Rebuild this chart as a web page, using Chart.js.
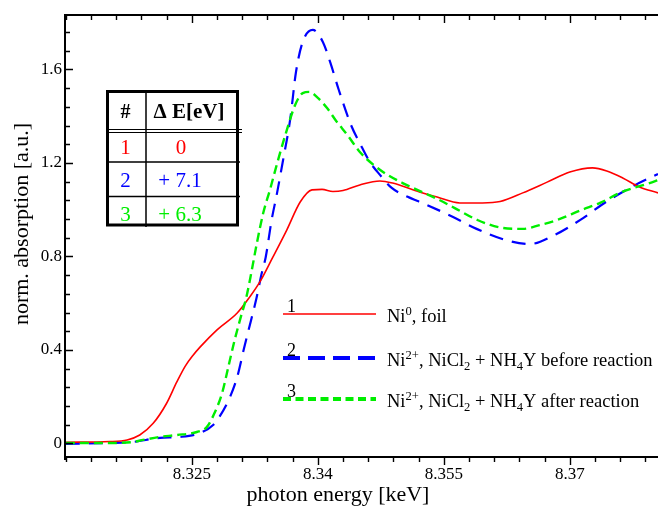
<!DOCTYPE html>
<html><head><meta charset="utf-8">
<script src="https://cdn.jsdelivr.net/npm/chart.js@4.4.1/dist/chart.umd.min.js"></script>
<style>html,body{margin:0;padding:0;background:#fff}#wrap{width:658px;height:509px;position:relative}canvas{display:block}</style>
</head><body><div id="wrap"><canvas id="c" width="658" height="509"></canvas></div>
<script>
// ---- data ----
const energyFoil = [8.3100,8.3152,8.3173,8.3188,8.3204,8.3220,8.3232,8.3242,8.3251,8.3260,8.3280,8.3304,8.3319,8.3331,8.3346,8.3363,8.3379,8.3393,8.3405,8.3418,8.3430,8.3450,8.3474,8.3489,8.3521,8.3542,8.3569,8.3596,8.3617,8.3644,8.3673,8.3700,8.3727,8.3744,8.3763,8.3783,8.3805];
const absFoil    = [0.005,0.008,0.015,0.036,0.086,0.172,0.262,0.330,0.375,0.413,0.486,0.558,0.627,0.691,0.794,0.913,1.033,1.085,1.087,1.078,1.082,1.106,1.123,1.114,1.076,1.054,1.029,1.029,1.035,1.072,1.118,1.161,1.179,1.166,1.136,1.097,1.072];

const energyBefore = [8.3100,8.3152,8.3179,8.3212,8.3236,8.3260,8.3275,8.3283,8.3295,8.3304,8.3312,8.3320,8.3327,8.3333,8.3338,8.3345,8.3351,8.3358,8.3367,8.3374,8.3382,8.3394,8.3406,8.3415,8.3425,8.3440,8.3450,8.3462,8.3474,8.3488,8.3507,8.3527,8.3561,8.3589,8.3623,8.3652,8.3682,8.3714,8.3743,8.3776,8.3805];
const absBefore    = [-0.002,0.002,0.006,0.024,0.028,0.045,0.078,0.115,0.195,0.284,0.405,0.520,0.622,0.725,0.798,0.956,1.063,1.200,1.384,1.589,1.718,1.769,1.718,1.628,1.512,1.358,1.285,1.204,1.149,1.093,1.055,1.025,0.969,0.918,0.871,0.853,0.892,0.960,1.033,1.102,1.153];

const energyAfter = [8.3100,8.3152,8.3179,8.3192,8.3212,8.3232,8.3256,8.3268,8.3277,8.3286,8.3294,8.3301,8.3308,8.3315,8.3321,8.3327,8.3335,8.3343,8.3351,8.3362,8.3373,8.3382,8.3390,8.3400,8.3411,8.3421,8.3436,8.3450,8.3468,8.3483,8.3501,8.3519,8.3540,8.3563,8.3590,8.3620,8.3644,8.3664,8.3685,8.3714,8.3736,8.3762,8.3795,8.3805];
const absAfter    = [0.002,0.002,0.006,0.015,0.028,0.036,0.049,0.071,0.130,0.215,0.336,0.443,0.537,0.627,0.734,0.849,0.986,1.085,1.191,1.328,1.448,1.499,1.504,1.478,1.435,1.384,1.316,1.247,1.187,1.149,1.114,1.084,1.050,1.007,0.956,0.922,0.918,0.934,0.956,0.999,1.029,1.076,1.114,1.127];

const seriesNumbers = ['1','2','3'];
const seriesLabels = ['Ni^{0}, foil','Ni^{2+}, NiCl_{2} + NH_{4}Y before reaction','Ni^{2+}, NiCl_{2} + NH_{4}Y after reaction'];
const seriesColors = ['#ff0000','#0000ff','#00ee00'];
const tableShifts = ['0','+ 7.1','+ 6.3'];
const xTickLabels = ['8.325','8.34','8.355','8.37'];
const yTickLabels = ['0','0.4','0.8','1.2','1.6'];
const xTitle = 'photon energy [keV]';
const yTitle = 'norm. absorption [a.u.]';

const SERIF = '"Liberation Serif", "Times New Roman", serif';
const pts = (xs, ys) => xs.map((x, i) => ({x, y: ys[i]}));
const findLabel = (list, v) => { const l = list.find(s => Math.abs(parseFloat(s) - v) < 1e-6); return l === undefined ? '' : l; };

function drawRich(ctx, str, x, y, size) {
  const re = /(\^\{[^}]*\}|_\{[^}]*\})/g;
  const parts = str.split(re).filter(p => p.length);
  let cx = x;
  for (const p of parts) {
    let t = p, dy = 0, fs = size;
    if (p.startsWith('^{')) { t = p.slice(2, -1); fs = size * 0.68; dy = -size * 0.36; }
    else if (p.startsWith('_{')) { t = p.slice(2, -1); fs = size * 0.68; dy = size * 0.22; }
    ctx.font = fs + 'px ' + SERIF;
    ctx.fillText(t, cx, y + dy);
    cx += ctx.measureText(t).width;
  }
}

const framePlugin = {
  id: 'frame',
  afterDatasetsDraw(chart) {
    const {ctx, chartArea: a, scales: {x, y}} = chart;
    ctx.save();
    ctx.strokeStyle = '#000';
    ctx.lineWidth = 2;
    ctx.beginPath();
    ctx.moveTo(a.left, a.top - 1); ctx.lineTo(a.left, a.bottom + 3);
    ctx.moveTo(a.left - 1, a.bottom); ctx.lineTo(a.right, a.bottom);
    ctx.moveTo(a.left - 1, a.top); ctx.lineTo(a.right, a.top);
    ctx.stroke();
    ctx.lineWidth = 1.4;
    ctx.beginPath();
    x.ticks.forEach(t => {
      const px = Math.round(x.getPixelForValue(t.value)) + 0.5;
      const L = findLabel(xTickLabels, t.value) ? 8 : 5;
      ctx.moveTo(px, a.bottom); ctx.lineTo(px, a.bottom + L);
      ctx.moveTo(px, a.top); ctx.lineTo(px, a.top + L);
    });
    y.ticks.forEach(t => {
      const py = Math.round(y.getPixelForValue(t.value)) + 0.5;
      const L = findLabel(yTickLabels, t.value) ? 8 : 5;
      ctx.moveTo(a.left, py); ctx.lineTo(a.left + L, py);
    });
    ctx.stroke();

    // axis titles
    ctx.fillStyle = '#000';
    ctx.font = '22px ' + SERIF;
    ctx.textAlign = 'center';
    ctx.textBaseline = 'alphabetic';
    ctx.fillText(xTitle, 338, 501);
    ctx.save();
    ctx.translate(28, 224);
    ctx.rotate(-Math.PI / 2);
    ctx.fillText(yTitle, 0, 0);
    ctx.restore();

    // legend
    const lineY = [314, 358, 399];
    const dashes = [[], [17, 8], [8, 4.5]];
    const widths = [1.7, 4, 4];
    for (let i = 0; i < 3; i++) {
      ctx.strokeStyle = seriesColors[i];
      ctx.lineWidth = widths[i];
      ctx.setLineDash(dashes[i]);
      ctx.beginPath();
      ctx.moveTo(283, lineY[i]); ctx.lineTo(376, lineY[i]);
      ctx.stroke();
      ctx.setLineDash([]);
      ctx.fillStyle = '#000';
      ctx.textAlign = 'left';
      ctx.textBaseline = 'alphabetic';
      ctx.font = '18px ' + SERIF;
      ctx.fillText(seriesNumbers[i], 287, lineY[i] - 2);
      drawRich(ctx, seriesLabels[i], 387, lineY[i] + 8, 18.5);
    }

    // table
    ctx.strokeStyle = '#000';
    ctx.lineWidth = 3;
    ctx.strokeRect(107.5, 91.5, 130, 133.5);
    ctx.lineWidth = 1.5;
    ctx.beginPath();
    ctx.moveTo(146, 91); ctx.lineTo(146, 227);
    ctx.moveTo(107, 162); ctx.lineTo(240, 162);
    ctx.moveTo(107, 196.5); ctx.lineTo(240, 196.5);
    ctx.stroke();
    ctx.lineWidth = 1.2;
    ctx.beginPath();
    ctx.moveTo(107, 129.5); ctx.lineTo(242, 129.5);
    ctx.moveTo(107, 132.5); ctx.lineTo(242, 132.5);
    ctx.stroke();
    ctx.textBaseline = 'middle';
    ctx.textAlign = 'center';
    ctx.fillStyle = '#000';
    ctx.font = 'bold 20px ' + SERIF;
    ctx.fillText('#', 125.5, 113);
    ctx.font = 'bold 21px ' + SERIF;
    ctx.fillText('\u0394 E[eV]', 189, 113);
    const rowY = [148, 181.5, 215];
    const shiftX = [181, 180, 180];
    ctx.font = '21px ' + SERIF;
    for (let i = 0; i < 3; i++) {
      ctx.fillStyle = seriesColors[i];
      ctx.fillText(seriesNumbers[i], 125.5, rowY[i]);
      ctx.fillText(tableShifts[i], shiftX[i], rowY[i]);
    }
    ctx.restore();
  }
};

new Chart(document.getElementById('c'), {
  type: 'scatter',
  data: {
    datasets: [
      {label: 'after', data: pts(energyAfter, absAfter), borderColor: seriesColors[2], borderWidth: 2.4, borderDash: [9, 5], order: 0},
      {label: 'foil', data: pts(energyFoil, absFoil), borderColor: seriesColors[0], borderWidth: 1.6, borderDash: [], order: 1},
      {label: 'before', data: pts(energyBefore, absBefore), borderColor: seriesColors[1], borderWidth: 2.2, borderDash: [14, 9], order: 2}
    ].map(d => Object.assign(d, {showLine: true, pointRadius: 0, fill: false, cubicInterpolationMode: 'monotone'}))
  },
  options: {
    responsive: false,
    animation: false,
    devicePixelRatio: 1,
    layout: {padding: {top: 15, right: 0, left: 0, bottom: 0}},
    plugins: {legend: {display: false}, tooltip: {enabled: false}},
    scales: {
      x: {
        type: 'linear', min: 8.3099, max: 8.3805,
        grid: {display: false, drawTicks: false},
        border: {display: false},
        afterFit: s => { s.height = 52; },
        ticks: {
          stepSize: 0.003, includeBounds: false, autoSkip: false, maxRotation: 0,
          padding: 7, color: '#000', font: {family: 'Liberation Serif', size: 17},
          callback: v => findLabel(xTickLabels, v)
        }
      },
      y: {
        type: 'linear', min: -0.058, max: 1.833,
        grid: {display: false, drawTicks: false},
        border: {display: false},
        afterFit: s => { s.width = 65; },
        ticks: {
          stepSize: 0.08, includeBounds: false, autoSkip: false,
          padding: 3, color: '#000', font: {family: 'Liberation Serif', size: 17},
          callback: v => findLabel(yTickLabels, v)
        }
      }
    }
  },
  plugins: [framePlugin]
});
</script>
</body></html>
